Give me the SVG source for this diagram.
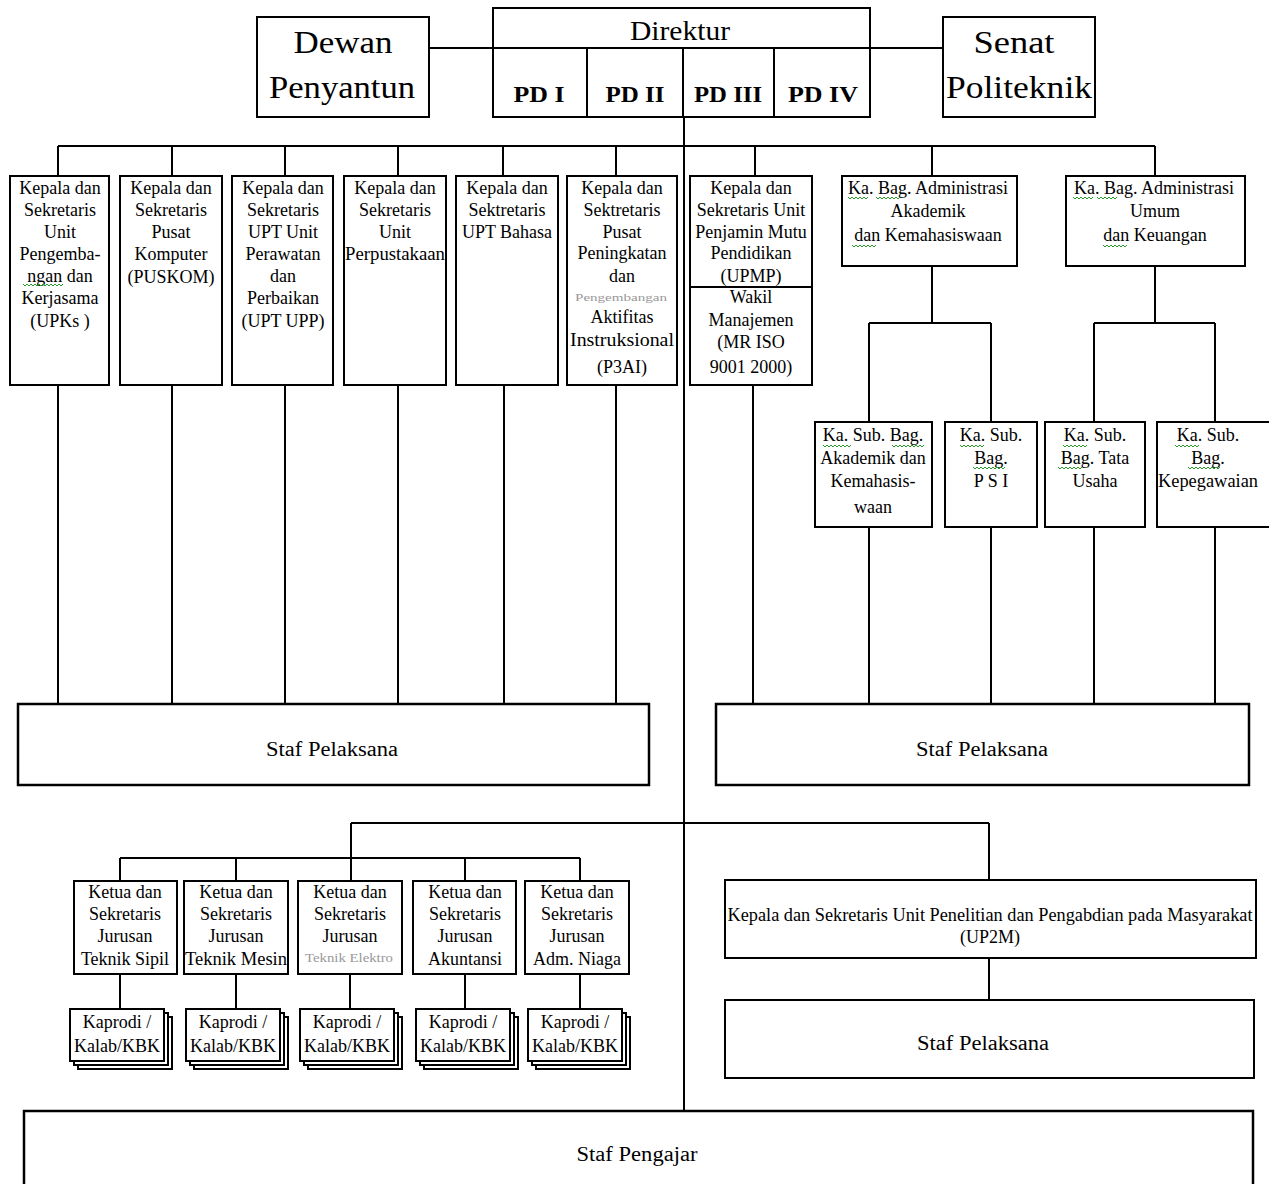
<svg xmlns="http://www.w3.org/2000/svg" width="1269" height="1184" viewBox="0 0 1269 1184">
<style>
.bx{fill:#fff;stroke:#000;stroke-width:2}
.bx3{fill:#fff;stroke:#000;stroke-width:2.5}
.ln{fill:none;stroke:#000;stroke-width:2}
.t{font-family:"Liberation Serif","Times New Roman",serif;font-size:18px;text-anchor:middle;fill:#000}
.big{font-family:"Liberation Serif","Times New Roman",serif;font-size:32px;text-anchor:middle;fill:#000}
.pd{font-family:"Liberation Serif","Times New Roman",serif;font-size:24px;font-weight:bold;text-anchor:middle;fill:#000}
.gr{font-family:"Liberation Serif","Times New Roman",serif;font-size:11px;text-anchor:middle;fill:#999}
.sf{font-family:"Liberation Serif","Times New Roman",serif;font-size:20px;text-anchor:middle;fill:#000}
.sq{fill:none;stroke:#2a9a2a;stroke-width:1}
</style>
<rect width="1269" height="1184" fill="#fff"/>

<g id="connectors">
<path class="ln" d="M429,48H493M870,48H943M684,117V1111"/>
<path class="ln" d="M58,146H1155M58,146V176M172,146V176M285,146V176M398,146V176M503,146V176M616,146V176M755,146V176M932,146V176M1155,146V176"/>
<path class="ln" d="M58,385V704M172,385V704M285,385V704M398,385V704M504,385V704M616,385V704M753,385V704"/>
<path class="ln" d="M932,266V323M869,323H991M869,323V422M991,323V422M1155,266V323M1094,323H1215M1094,323V422M1215,323V422"/>
<path class="ln" d="M869,527V704M991,527V704M1094,527V704M1215,527V704"/>
<path class="ln" d="M351,823H989M351,823V881M120,858H580M120,858V881M236,858V881M465,858V881M580,858V881M989,823V880M989,958V1000"/>
<path class="ln" d="M120,974V1009M236,974V1009M350,974V1009M465,974V1009M580,974V1009"/>
</g>

<g id="dewan">
<rect class="bx" x="257" y="17" width="172" height="100"/>
<text class="big" x="343" y="53" textLength="99" lengthAdjust="spacingAndGlyphs">Dewan</text>
<text class="big" x="342" y="98" textLength="146" lengthAdjust="spacingAndGlyphs">Penyantun</text>
</g>

<g id="direktur">
<rect class="bx" x="493" y="8" width="377" height="109"/>
<path class="ln" d="M493,48H870M587,48V117M683,48V117M774,48V117"/>
<text class="big" x="680" y="40" style="font-size:27px" textLength="100" lengthAdjust="spacingAndGlyphs">Direktur</text>
<text class="pd" x="539" y="102" textLength="51" lengthAdjust="spacingAndGlyphs">PD I</text>
<text class="pd" x="635" y="102" textLength="59" lengthAdjust="spacingAndGlyphs">PD II</text>
<text class="pd" x="728" y="102" textLength="68" lengthAdjust="spacingAndGlyphs">PD III</text>
<text class="pd" x="823" y="102" textLength="70" lengthAdjust="spacingAndGlyphs">PD IV</text>
</g>

<g id="senat">
<rect class="bx" x="943" y="17" width="152" height="100"/>
<text class="big" x="1014" y="53" textLength="81" lengthAdjust="spacingAndGlyphs">Senat</text>
<text class="big" x="1019" y="98" textLength="146" lengthAdjust="spacingAndGlyphs">Politeknik</text>
</g>

<g id="upks">
<rect class="bx" x="10" y="176" width="99" height="209"/>
<text class="t" x="60" y="194">Kepala dan</text>
<text class="t" x="60" y="216">Sekretaris</text>
<text class="t" x="60" y="238">Unit</text>
<text class="t" x="60" y="260">Pengemba-</text>
<text class="t" x="60" y="282">ngan dan</text>
<text class="t" x="60" y="304">Kerjasama</text>
<text class="t" x="60" y="327">(UPKs )</text>
<path class="sq" d="M23,284l2,2l2,-2l2,2l2,-2l2,2l2,-2l2,2l2,-2l2,2l2,-2l2,2l2,-2l2,2l2,-2l2,2l2,-2l2,2l2,-2l2,2l2,-2"/>
</g>

<g id="puskom">
<rect class="bx" x="120" y="176" width="102" height="209"/>
<text class="t" x="171" y="194">Kepala dan</text>
<text class="t" x="171" y="216">Sekretaris</text>
<text class="t" x="171" y="238">Pusat</text>
<text class="t" x="171" y="260">Komputer</text>
<text class="t" x="171" y="283">(PUSKOM)</text>
</g>

<g id="uptupp">
<rect class="bx" x="232" y="176" width="101" height="209"/>
<text class="t" x="283" y="194">Kepala dan</text>
<text class="t" x="283" y="216">Sekretaris</text>
<text class="t" x="283" y="238">UPT Unit</text>
<text class="t" x="283" y="260">Perawatan</text>
<text class="t" x="283" y="282">dan</text>
<text class="t" x="283" y="304">Perbaikan</text>
<text class="t" x="283" y="327">(UPT UPP)</text>
</g>

<g id="perpustakaan">
<rect class="bx" x="344" y="176" width="102" height="209"/>
<text class="t" x="395" y="194">Kepala dan</text>
<text class="t" x="395" y="216">Sekretaris</text>
<text class="t" x="395" y="238">Unit</text>
<text class="t" x="395" y="260" textLength="100" lengthAdjust="spacingAndGlyphs">Perpustakaan</text>
</g>

<g id="bahasa">
<rect class="bx" x="456" y="176" width="102" height="209"/>
<text class="t" x="507" y="194">Kepala dan</text>
<text class="t" x="507" y="216">Sektretaris</text>
<text class="t" x="507" y="238">UPT Bahasa</text>
</g>

<g id="p3ai">
<rect class="bx" x="567" y="176" width="110" height="209"/>
<text class="t" x="622" y="194">Kepala dan</text>
<text class="t" x="622" y="216">Sektretaris</text>
<text class="t" x="622" y="238">Pusat</text>
<text class="t" x="622" y="259">Peningkatan</text>
<text class="t" x="622" y="282">dan</text>
<text class="gr" x="621" y="301" textLength="92" lengthAdjust="spacingAndGlyphs">Pengembangan</text>
<text class="t" x="622" y="323">Aktifitas</text>
<text class="t" x="622" y="346" textLength="104" lengthAdjust="spacingAndGlyphs">Instruksional</text>
<text class="t" x="622" y="373">(P3AI)</text>
</g>

<g id="upmp">
<rect class="bx" x="690" y="176" width="122" height="209"/>
<path class="ln" d="M690,287H812"/>
<text class="t" x="751" y="194">Kepala dan</text>
<text class="t" x="751" y="216">Sekretaris Unit</text>
<text class="t" x="751" y="238">Penjamin Mutu</text>
<text class="t" x="751" y="259">Pendidikan</text>
<text class="t" x="751" y="282">(UPMP)</text>
<text class="t" x="751" y="303">Wakil</text>
<text class="t" x="751" y="326">Manajemen</text>
<text class="t" x="751" y="348">(MR ISO</text>
<text class="t" x="751" y="373">9001 2000)</text>
</g>

<g id="kabag-akademik">
<rect class="bx" x="842" y="176" width="175" height="90"/>
<text class="t" x="928" y="194">Ka. Bag. Administrasi</text>
<text class="t" x="928" y="217">Akademik</text>
<text class="t" x="928" y="241">dan Kemahasiswaan</text>
<path class="sq" d="M848,197l2,2l2,-2l2,2l2,-2l2,2l2,-2l2,2l2,-2l2,2l2,-2M876,197l2,2l2,-2l2,2l2,-2l2,2l2,-2l2,2l2,-2l2,2l2,-2l2,2l2,-2M852,245l2,2l2,-2l2,2l2,-2l2,2l2,-2l2,2l2,-2l2,2l2,-2l2,2l2,-2"/>
</g>

<g id="kabag-umum">
<rect class="bx" x="1066" y="176" width="179" height="90"/>
<text class="t" x="1154" y="194">Ka. Bag. Administrasi</text>
<text class="t" x="1155" y="217">Umum</text>
<text class="t" x="1155" y="241">dan Keuangan</text>
<path class="sq" d="M1073,197l2,2l2,-2l2,2l2,-2l2,2l2,-2l2,2l2,-2l2,2l2,-2M1097,197l2,2l2,-2l2,2l2,-2l2,2l2,-2l2,2l2,-2l2,2l2,-2M1103,245l2,2l2,-2l2,2l2,-2l2,2l2,-2l2,2l2,-2l2,2l2,-2l2,2l2,-2"/>
</g>

<g id="subbag-akademik">
<rect class="bx" x="815" y="422" width="117" height="105"/>
<text class="t" x="873" y="441">Ka. Sub. Bag.</text>
<text class="t" x="873" y="464">Akademik dan</text>
<text class="t" x="873" y="487">Kemahasis-</text>
<text class="t" x="873" y="513">waan</text>
<path class="sq" d="M823,445l2,2l2,-2l2,2l2,-2l2,2l2,-2l2,2l2,-2l2,2l2,-2l2,2l2,-2l2,2l2,-2M892,445l2,2l2,-2l2,2l2,-2l2,2l2,-2l2,2l2,-2l2,2l2,-2l2,2l2,-2l2,2l2,-2l2,2l2,-2"/>
</g>

<g id="subbag-psi">
<rect class="bx" x="945" y="422" width="92" height="105"/>
<text class="t" x="991" y="441">Ka. Sub.</text>
<text class="t" x="991" y="464">Bag.</text>
<text class="t" x="991" y="487">P S I</text>
<path class="sq" d="M960,445l2,2l2,-2l2,2l2,-2l2,2l2,-2l2,2l2,-2l2,2l2,-2l2,2l2,-2M973,467l2,2l2,-2l2,2l2,-2l2,2l2,-2l2,2l2,-2l2,2l2,-2l2,2l2,-2l2,2l2,-2l2,2l2,-2"/>
</g>

<g id="subbag-tatausaha">
<rect class="bx" x="1045" y="422" width="100" height="105"/>
<text class="t" x="1095" y="441">Ka. Sub.</text>
<text class="t" x="1095" y="464">Bag. Tata</text>
<text class="t" x="1095" y="487">Usaha</text>
<path class="sq" d="M1063,445l2,2l2,-2l2,2l2,-2l2,2l2,-2l2,2l2,-2l2,2l2,-2l2,2l2,-2M1058,467l2,2l2,-2l2,2l2,-2l2,2l2,-2l2,2l2,-2l2,2l2,-2l2,2l2,-2"/>
</g>

<g id="subbag-kepegawaian">
<rect class="bx" x="1157" y="422" width="120" height="105"/>
<text class="t" x="1208" y="441">Ka. Sub.</text>
<text class="t" x="1208" y="464">Bag.</text>
<text class="t" x="1208" y="487" textLength="100" lengthAdjust="spacingAndGlyphs">Kepegawaian</text>
<path class="sq" d="M1175,445l2,2l2,-2l2,2l2,-2l2,2l2,-2l2,2l2,-2l2,2l2,-2l2,2l2,-2M1188,467l2,2l2,-2l2,2l2,-2l2,2l2,-2l2,2l2,-2l2,2l2,-2l2,2l2,-2l2,2l2,-2l2,2l2,-2"/>
</g>

<g id="staf-pelaksana-1">
<rect class="bx3" x="18" y="704" width="631" height="81"/>
<text class="sf" x="332" y="756" textLength="132" lengthAdjust="spacingAndGlyphs">Staf Pelaksana</text>
</g>

<g id="staf-pelaksana-2">
<rect class="bx3" x="716" y="704" width="533" height="81"/>
<text class="sf" x="982" y="756" textLength="132" lengthAdjust="spacingAndGlyphs">Staf Pelaksana</text>
</g>

<g id="jurusan-sipil">
<rect class="bx" x="74" y="881" width="103" height="93"/>
<text class="t" x="125" y="898">Ketua dan</text>
<text class="t" x="125" y="920">Sekretaris</text>
<text class="t" x="125" y="942">Jurusan</text>
<text class="t" x="125" y="965">Teknik Sipil</text>
</g>
<g id="jurusan-mesin">
<rect class="bx" x="184" y="881" width="104" height="93"/>
<text class="t" x="236" y="898">Ketua dan</text>
<text class="t" x="236" y="920">Sekretaris</text>
<text class="t" x="236" y="942">Jurusan</text>
<text class="t" x="236" y="965" textLength="102" lengthAdjust="spacingAndGlyphs">Teknik Mesin</text>
</g>
<g id="jurusan-elektro">
<rect class="bx" x="298" y="881" width="104" height="93"/>
<text class="t" x="350" y="898">Ketua dan</text>
<text class="t" x="350" y="920">Sekretaris</text>
<text class="t" x="350" y="942">Jurusan</text>
<text class="gr" x="349" y="962" style="font-size:12px" textLength="88" lengthAdjust="spacingAndGlyphs">Teknik Elektro</text>
</g>
<g id="jurusan-akuntansi">
<rect class="bx" x="413" y="881" width="103" height="93"/>
<text class="t" x="465" y="898">Ketua dan</text>
<text class="t" x="465" y="920">Sekretaris</text>
<text class="t" x="465" y="942">Jurusan</text>
<text class="t" x="465" y="965">Akuntansi</text>
</g>
<g id="jurusan-niaga">
<rect class="bx" x="525" y="881" width="104" height="93"/>
<text class="t" x="577" y="898">Ketua dan</text>
<text class="t" x="577" y="920">Sekretaris</text>
<text class="t" x="577" y="942">Jurusan</text>
<text class="t" x="577" y="965">Adm. Niaga</text>
</g>

<g id="kaprodi-1">
<rect class="bx" x="78" y="1017" width="94" height="52"/>
<rect class="bx" x="74" y="1013" width="94" height="52"/>
<rect class="bx" x="70" y="1009" width="94" height="52"/>
<text class="t" x="117" y="1028">Kaprodi /</text>
<text class="t" x="117" y="1052">Kalab/KBK</text>
</g>
<g id="kaprodi-2">
<rect class="bx" x="194" y="1017" width="94" height="52"/>
<rect class="bx" x="190" y="1013" width="94" height="52"/>
<rect class="bx" x="186" y="1009" width="94" height="52"/>
<text class="t" x="233" y="1028">Kaprodi /</text>
<text class="t" x="233" y="1052">Kalab/KBK</text>
</g>
<g id="kaprodi-3">
<rect class="bx" x="308" y="1017" width="94" height="52"/>
<rect class="bx" x="304" y="1013" width="94" height="52"/>
<rect class="bx" x="300" y="1009" width="94" height="52"/>
<text class="t" x="347" y="1028">Kaprodi /</text>
<text class="t" x="347" y="1052">Kalab/KBK</text>
</g>
<g id="kaprodi-4">
<rect class="bx" x="424" y="1017" width="94" height="52"/>
<rect class="bx" x="420" y="1013" width="94" height="52"/>
<rect class="bx" x="416" y="1009" width="94" height="52"/>
<text class="t" x="463" y="1028">Kaprodi /</text>
<text class="t" x="463" y="1052">Kalab/KBK</text>
</g>
<g id="kaprodi-5">
<rect class="bx" x="536" y="1017" width="94" height="52"/>
<rect class="bx" x="532" y="1013" width="94" height="52"/>
<rect class="bx" x="528" y="1009" width="94" height="52"/>
<text class="t" x="575" y="1028">Kaprodi /</text>
<text class="t" x="575" y="1052">Kalab/KBK</text>
</g>

<g id="up2m">
<rect class="bx" x="725" y="880" width="531" height="78"/>
<text class="t" x="990" y="921" textLength="525" lengthAdjust="spacingAndGlyphs">Kepala dan Sekretaris Unit Penelitian dan Pengabdian pada Masyarakat</text>
<text class="t" x="990" y="943">(UP2M)</text>
</g>

<g id="staf-pelaksana-3">
<rect class="bx" x="725" y="1000" width="529" height="78"/>
<text class="sf" x="983" y="1050" textLength="132" lengthAdjust="spacingAndGlyphs">Staf Pelaksana</text>
</g>

<g id="staf-pengajar">
<rect class="bx3" x="24" y="1111" width="1229" height="85"/>
<text class="sf" x="637" y="1161" textLength="121" lengthAdjust="spacingAndGlyphs">Staf Pengajar</text>
</g>
</svg>
